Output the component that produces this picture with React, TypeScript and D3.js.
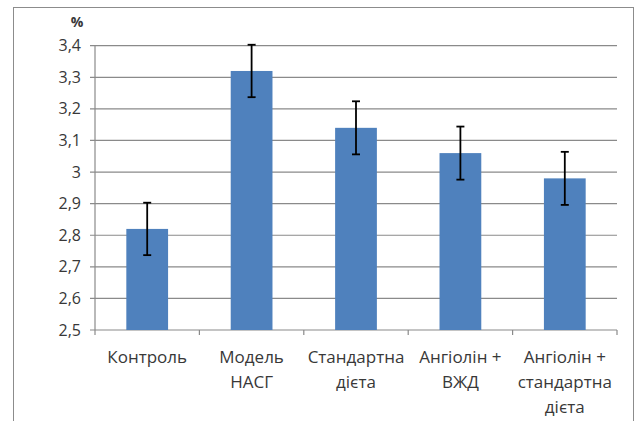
import React from "react";
import * as d3 from "d3";

const categories: string[][] = [
  ["Контроль"],
  ["Модель", "НАСГ"],
  ["Стандартна", "дієта"],
  ["Ангіолін +", "ВЖД"],
  ["Ангіолін +", "стандартна", "дієта"],
];
const values: number[] = [2.82, 3.32, 3.14, 3.06, 2.98];
const errors: number[] = [0.083, 0.083, 0.084, 0.084, 0.084];
const yTicks: number[] = [2.5, 2.6, 2.7, 2.8, 2.9, 3.0, 3.1, 3.2, 3.3, 3.4];
const yLabel = "%";

const W = 638;
const H = 421;
const plot = { left: 95, right: 617, top: 45.7, bottom: 330 };
const font = "'Open Sans', 'DejaVu Sans', sans-serif";
const textColor = "#383838";

export default function App() {
  const x = d3
    .scaleBand<number>()
    .domain(d3.range(values.length))
    .range([plot.left, plot.right])
    .paddingInner(0.6)
    .paddingOuter(0.3);
  const y = d3.scaleLinear().domain([2.5, 3.4]).range([plot.bottom, plot.top]);
  const step = x.step();
  const fmt = (v: number) => (Number.isInteger(v) ? String(v) : v.toFixed(1).replace(".", ","));
  const cap = 4;

  return (
    <svg
      width={W}
      height={H}
      style={{ position: "absolute", left: 0, top: 0, background: "#fff" }}
      fontFamily={font}
    >
      <rect x={13.5} y={7.5} width={620} height={430} fill="#fff" stroke="#8c8c8c" strokeWidth={1} />
      {yTicks.map((t) => (
        <line key={"g" + t} x1={plot.left - 5} x2={plot.right} y1={y(t)} y2={y(t)} stroke="#8a8a8a" strokeWidth={1.2} />
      ))}
      <line x1={plot.left} x2={plot.left} y1={plot.top} y2={plot.bottom} stroke="#8a8a8a" strokeWidth={1.2} />
      {yTicks.map((t) => (
        <text key={"t" + t} x={81} y={y(t)} dy="0.35em" textAnchor="end" fontSize={16} fill={textColor}>
          {fmt(t)}
        </text>
      ))}
      <text x={77} y={22} dy="0.35em" textAnchor="middle" fontSize={14} fontWeight="bold" fill={textColor}>
        {yLabel}
      </text>
      {d3.range(values.length + 1).map((i) => (
        <line
          key={"xt" + i}
          x1={plot.left + i * step}
          x2={plot.left + i * step}
          y1={plot.bottom}
          y2={plot.bottom + 5}
          stroke="#8a8a8a"
          strokeWidth={1.2}
        />
      ))}
      {values.map((v, i) => (
        <rect key={"b" + i} x={x(i)} y={y(v)} width={x.bandwidth()} height={y(2.5) - y(v)} fill="#4f81bd" />
      ))}
      {values.map((v, i) => {
        const cx = (x(i) as number) + x.bandwidth() / 2;
        return (
          <g key={"e" + i} stroke="#000" strokeWidth={1.8}>
            <line x1={cx} x2={cx} y1={y(v + errors[i])} y2={y(v - errors[i])} />
            <line x1={cx - cap} x2={cx + cap} y1={y(v + errors[i])} y2={y(v + errors[i])} />
            <line x1={cx - cap} x2={cx + cap} y1={y(v - errors[i])} y2={y(v - errors[i])} />
          </g>
        );
      })}
      {categories.map((lines, i) => {
        const cx = (x(i) as number) + x.bandwidth() / 2;
        return (
          <text key={"xl" + i} textAnchor="middle" fontSize={17} fill={textColor}>
            {lines.map((l, j) => (
              <tspan key={j} x={cx} y={363 + j * 25}>
                {l}
              </tspan>
            ))}
          </text>
        );
      })}
    </svg>
  );
}
